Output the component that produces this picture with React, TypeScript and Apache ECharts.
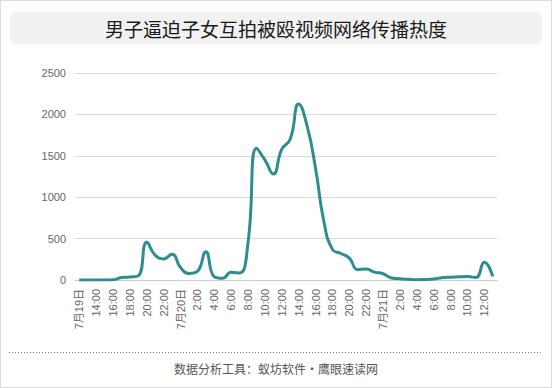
import React, { useEffect, useRef } from "react";
import * as echarts from "echarts";

const title = "男子逼迫子女互拍被殴视频网络传播热度";
const footer = "数据分析工具：蚁坊软件·鹰眼速读网";

const categories = [
  "7月19日", "13:00", "14:00", "15:00", "16:00", "17:00", "18:00", "19:00", "20:00", "21:00", "22:00", "23:00",
  "7月20日", "1:00", "2:00", "3:00", "4:00", "5:00", "6:00", "7:00", "8:00", "9:00", "10:00", "11:00",
  "12:00", "13:00", "14:00", "15:00", "16:00", "17:00", "18:00", "19:00", "20:00", "21:00", "22:00", "23:00",
  "7月21日", "1:00", "2:00", "3:00", "4:00", "5:00", "6:00", "7:00", "8:00", "9:00", "10:00", "11:00",
  "12:00", "13:00",
];

const heat = [
  0, 0, 0, 0, 2, 30, 36, 50, 455, 300, 255, 310,
  150, 80, 105, 340, 40, 22, 95, 85, 450, 1590, 1450, 1280,
  1580, 1700, 2125, 1860, 1350, 700, 370, 320, 265, 125, 133, 95,
  76, 25, 16, 8, 3, 5, 12, 28, 34, 38, 42, 30,
  215, 44,
];

const yTicks = { min: 0, max: 2500, interval: 500 };

export default function App() {
  const ref = useRef<HTMLDivElement>(null);
  useEffect(() => {
    if (!ref.current) return;
    const chart = echarts.init(ref.current, null, { renderer: "svg" });
    const font = '"Liberation Sans", Arial, "Noto Sans CJK SC", sans-serif';
    chart.setOption({
      animation: false,
      textStyle: { fontFamily: font },
      grid: { left: 75, right: 55, top: 73, bottom: 108 },
      xAxis: {
        type: "category",
        data: categories,
        boundaryGap: true,
        axisLine: { show: true, lineStyle: { color: "#cccccc" } },
        axisTick: { show: false },
        axisLabel: {
          interval: 1,
          rotate: 90,
          margin: 9,
          color: "#666666",
          fontSize: 11,
          fontFamily: font,
        },
      },
      yAxis: {
        type: "value",
        min: yTicks.min,
        max: yTicks.max,
        interval: yTicks.interval,
        axisLine: { show: false },
        axisTick: { show: false },
        axisLabel: {
          color: "#666666",
          fontSize: 11,
          margin: 9,
          fontFamily: font,
          formatter: (v: number) => String(v),
        },
        splitLine: { lineStyle: { color: "#d9d9d9" } },
      },
      series: [
        {
          type: "line",
          data: heat,
          smooth: 0.5,
          showSymbol: false,
          lineStyle: { color: "#2e8c93", width: 3 },
          itemStyle: { color: "#2e8c93" },
        },
      ],
      graphic: [
        {
          type: "rect",
          shape: { x: 10, y: 12, width: 532, height: 32, r: 5 },
          style: { fill: "#f1f1f1" },
          silent: true,
        },
        {
          type: "text",
          x: 276,
          y: 28,
          style: {
            text: title,
            fill: "#1a1a1a",
            fontSize: 19,
            fontFamily: '"Noto Sans CJK SC", sans-serif',
            align: "center",
            verticalAlign: "middle",
          },
        },
        {
          type: "line",
          shape: { x1: 9, y1: 352.5, x2: 543, y2: 352.5 },
          style: { stroke: "#777777", lineWidth: 1, lineDash: [1, 2] },
        },
        {
          type: "text",
          x: 276,
          y: 368,
          style: {
            text: footer,
            fill: "#555555",
            fontSize: 12,
            fontFamily: '"Noto Sans CJK SC", sans-serif',
            align: "center",
            verticalAlign: "middle",
          },
        },
      ],
    });
    return () => chart.dispose();
  }, []);
  return (
    <div
      style={{
        position: "fixed",
        left: 0,
        top: 0,
        width: 552,
        height: 388,
        boxSizing: "border-box",
        border: "1px solid #dddddd",
        background: "#ffffff",
      }}
    >
      <div ref={ref} style={{ position: "absolute", left: -1, top: -1, width: 552, height: 388 }} />
    </div>
  );
}
